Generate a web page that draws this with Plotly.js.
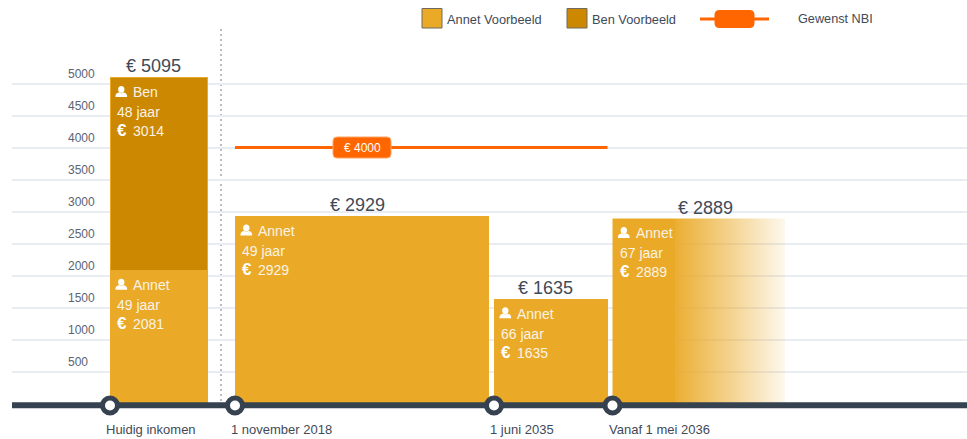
<!DOCTYPE html>
<html><head><meta charset="utf-8">
<script src="https://cdn.plot.ly/plotly-3.0.1.min.js"></script>
<style>html,body{margin:0;padding:0;background:#fff}#c{width:967px;height:439px}</style>
</head><body><div id="c"></div>
<script>
// Data
const periodLabels = ['Huidig inkomen','1 november 2018','1 juni 2035','Vanaf 1 mei 2036'];
const periodStart = [110, 235, 494, 612.5];
const periodEnd = [207.5, 489, 607.5, 785];
const annetValues = [2081, 2929, 1635, 2889];
const annetAges = [49, 49, 66, 67];
const benValues = [3014, 0, 0, 0];
const benAge = 48;
const totals = [5095, 2929, 1635, 2889];
const targetValue = 4000;
const targetFrom = 235, targetTo = 607.5;
const yTicks = [500,1000,1500,2000,2500,3000,3500,4000,4500,5000];

// Styles
const ANNET='#EAAA28', BEN='#CC8800', ORANGE='#FF6600', DARK='#36424F', TXT='#3F4A58', FONT='"Liberation Sans", Arial, sans-serif';
const PXU=0.064, Y0=403.5;
const py = p => (Y0-p)/PXU;   // page pixel row to axis value (used for legend furniture)

const traces=[];
const solid=[0,1,2];
traces.push({type:'bar',name:'Annet Voorbeeld',showlegend:false,hoverinfo:'skip',
  x:solid.map(i=>(periodStart[i]+periodEnd[i])/2),
  width:solid.map(i=>periodEnd[i]-periodStart[i]),
  y:solid.map(i=>annetValues[i]),
  marker:{color:ANNET,line:{width:0}}});
traces.push({type:'bar',name:'Ben Voorbeeld',showlegend:false,hoverinfo:'skip',
  x:[(periodStart[0]+periodEnd[0])/2],
  width:[periodEnd[0]-periodStart[0]],
  y:[benValues[0]],
  marker:{color:BEN,line:{color:ANNET,width:1}}});
traces.push({type:'scatter',mode:'lines',showlegend:false,hoverinfo:'skip',
  x:[periodStart[3],periodEnd[3],periodEnd[3],periodStart[3],periodStart[3]],
  y:[annetValues[3],annetValues[3],0,0,annetValues[3]],
  line:{width:0},fill:'toself',
  fillgradient:{type:'horizontal',colorscale:[[0,'rgba(234,170,40,1)'],[0.36,'rgba(234,170,40,1)'],[0.362,'rgba(234,170,40,0.95)'],[0.7,'rgba(234,170,40,0.5)'],[1,'rgba(234,170,40,0.08)']]}});
traces.push({type:'scatter',mode:'lines',name:'Gewenst NBI',showlegend:false,hoverinfo:'skip',
  x:[targetFrom,targetTo],y:[targetValue,targetValue],line:{color:ORANGE,width:3}});
// base line & period markers
traces.push({type:'scatter',mode:'lines',showlegend:false,hoverinfo:'skip',
  x:[12,967],y:[py(405.3),py(405.3)],line:{color:DARK,width:6}});
traces.push({type:'scatter',mode:'markers',showlegend:false,hoverinfo:'skip',cliponaxis:false,
  x:periodStart,y:periodStart.map(()=>py(405.5)),
  marker:{size:15,color:'#fff',line:{color:DARK,width:5}}});

const ann=[]; const shapes=[];
const txt=(x,y,text,size,color,anchor,extra)=>ann.push(Object.assign({x,y,xref:'x',yref:'y',text,showarrow:false,xanchor:anchor||'left',yanchor:'middle',font:{family:FONT,size,color}},extra||{}));

function person(xp,yp){
  // icon in pixel units, y up, anchored on a page position
  shapes.push({type:'path',layer:'above',xref:'x',yref:'y',xsizemode:'pixel',ysizemode:'pixel',xanchor:xp,yanchor:py(yp),
   path:'M 0,11 C 2,11 3.2,9.4 3.2,7.6 C 3.2,5.6 2,4.2 0,4.2 C -2,4.2 -3.2,5.6 -3.2,7.6 C -3.2,9.4 -2,11 0,11 Z '+
        'M -5.8,0 L -5.8,1.4 C -5.8,3.4 -4,4.4 -2.2,4.6 C -1,3.6 1,3.6 2.2,4.6 C 4,4.4 5.8,3.4 5.8,1.4 L 5.8,0 Z',
   fillcolor:'#fff',line:{width:0}});
}
function block(x0,topPx,name,age,val){
  person(x0+11.3,topPx+4.5);
  txt(x0+21,py(topPx-0.3),name,14,'#F9F3E6');
  txt(x0+5,py(topPx+19.7),age+' jaar',14,'#F9F3E6');
  txt(x0+5,py(topPx+38.2),'<b>€</b>',17,'#fff');
  txt(x0+21,py(topPx+38.7),String(val),14,'#F9F3E6');
}
block(periodStart[0],92.5,'Ben',benAge,benValues[0]);
periodStart.forEach((s,i)=>{
  const top=Y0-annetValues[i]*PXU;
  block(s,top+15,'Annet',annetAges[i],annetValues[i]);
});
periodStart.forEach((s,i)=>{
  const c=i==3?705:(s+periodEnd[i])/2-5;
  txt(c,totals[i],'€ '+totals[i],18,TXT,'center',{yanchor:'bottom',yshift:-1});
});
periodLabels.forEach((l,i)=>txt(periodStart[i]-6,py(429.5),l,13,TXT));
// target pill
shapes.push({type:'path',layer:'above',xref:'x',yref:'y',xsizemode:'pixel',ysizemode:'pixel',xanchor:362,yanchor:targetValue,
 path:'M -25,-10.5 L 25,-10.5 Q 29,-10.5 29,-6.5 L 29,6.5 Q 29,10.5 25,10.5 L -25,10.5 Q -29,10.5 -29,6.5 L -29,-6.5 Q -29,-10.5 -25,-10.5 Z',
 fillcolor:ORANGE,line:{color:'#FFA366',width:1}});
txt(362,targetValue,'€ 4000',12,'#fff','center');
// dotted separator
shapes.push({type:'line',layer:'below',xref:'x',yref:'y',x0:221,x1:221,y0:py(29),y1:0,line:{color:'#B9BDC3',width:2,dash:'2px,3px'}});
// legend
[[422,ANNET,'Annet Voorbeeld',445],[567,BEN,'Ben Voorbeeld',590]].forEach(([x,c,t,tx])=>{
  shapes.push({type:'rect',layer:'above',xref:'x',yref:'y',x0:x,x1:x+20,y0:py(8.5),y1:py(28),fillcolor:c,line:{color:'#6F6A60',width:1}});
  txt(tx,py(19),t,12.8,TXT);
});
shapes.push({type:'line',layer:'above',xref:'x',yref:'y',x0:700,x1:769,y0:py(19),y1:py(19),line:{color:ORANGE,width:3}});
shapes.push({type:'path',layer:'above',xref:'x',yref:'y',xsizemode:'pixel',ysizemode:'pixel',xanchor:734.5,yanchor:py(19),
 path:'M -15,-9 L 15,-9 Q 20,-9 20,-4 L 20,4 Q 20,9 15,9 L -15,9 Q -20,9 -20,4 L -20,-4 Q -20,-9 -15,-9 Z',fillcolor:ORANGE,line:{width:0}});
txt(796,py(19),'Gewenst NBI',12.7,TXT);

const layout={
  width:967,height:439,margin:{l:12,r:0,t:0,b:0,pad:0},
  paper_bgcolor:'#fff',plot_bgcolor:'#fff',
  showlegend:false,barmode:'stack',bargap:0,
  font:{family:FONT,color:TXT},
  xaxis:{range:[12,967],showgrid:false,zeroline:false,showline:false,ticks:'',showticklabels:false,fixedrange:true},
  yaxis:{range:[py(439),py(0)],tickvals:yTicks,ticktext:yTicks.map(String),showgrid:true,gridcolor:'#E9ECF2',gridwidth:2,zeroline:false,showline:false,ticks:'',
    ticklabelposition:'inside',ticklabelstandoff:53,ticklabelshift:-10,tickfont:{family:FONT,size:12,color:'#5A6472'},fixedrange:true},
  shapes,annotations:ann
};
Plotly.newPlot('c',traces,layout,{displayModeBar:false,staticPlot:true});
</script></body></html>
